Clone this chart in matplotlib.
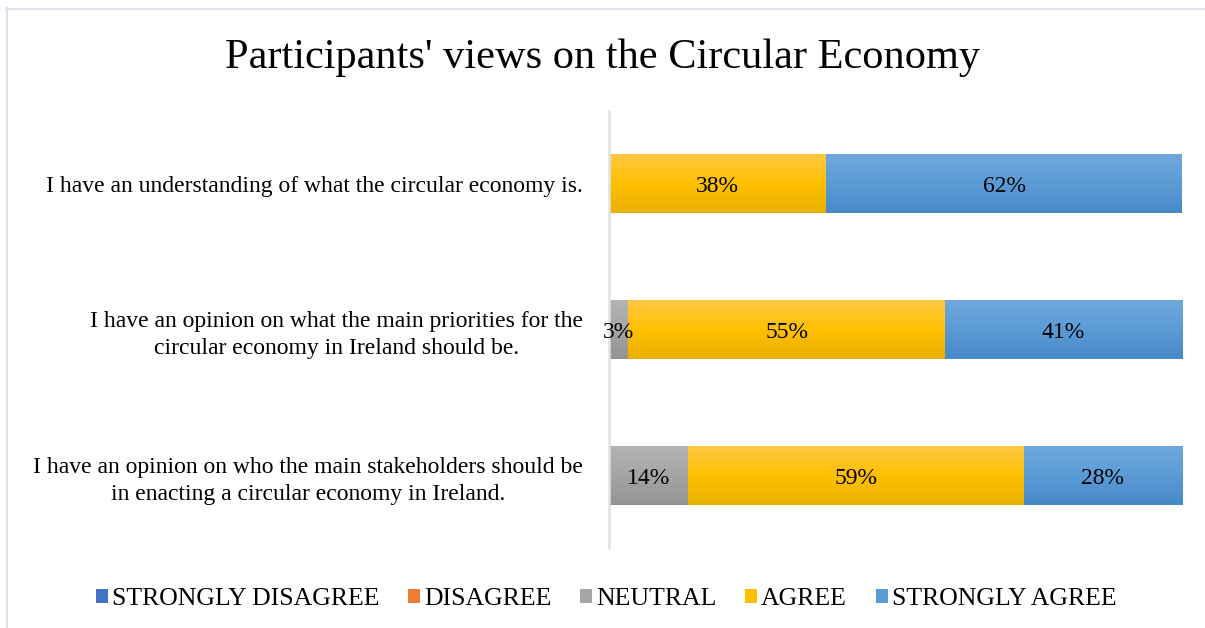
import numpy as np
import matplotlib.pyplot as plt
from matplotlib.colors import LinearSegmentedColormap
from matplotlib.patches import Patch
from matplotlib.lines import Line2D

plt.rcParams['font.family'] = ['Liberation Serif', 'DejaVu Serif']

# Survey statements and share of responses (%) per answer
statements = [
    "I have an understanding of what the circular economy is.",
    "I have an opinion on what the main priorities for the\ncircular economy in Ireland should be.",
    "I have an opinion on who the main stakeholders should be\nin enacting a circular economy in Ireland.",
]
responses = ["STRONGLY DISAGREE", "DISAGREE", "NEUTRAL", "AGREE", "STRONGLY AGREE"]
strongly_disagree = [0.0, 0.0, 0.0]
disagree = [0.0, 0.0, 0.0]
neutral = [0.0, 3.4, 13.8]
agree = [37.9, 55.2, 58.6]
strongly_agree = [62.1, 41.4, 27.6]

# base colour plus (top, bottom) shades for the vertical gradient
colors = ['#4472C4', '#ED7D31', '#A5A5A5', '#FFC000', '#5B9BD5']
shades = [('#5A86D4', '#3863B4'), ('#F4904A', '#DC6C22'), ('#B4B4B4', '#939393'),
          ('#FFC843', '#E8B000'), ('#6FA8DD', '#4789C9')]

fig = plt.figure(figsize=(12.05, 6.28), dpi=100)
ax = fig.add_axes([0.5054, 0.1274, 0.4755, 0.6958])

ypos = np.arange(len(statements))
series = [strongly_disagree, disagree, neutral, agree, strongly_agree]
left = np.zeros(len(statements))
bar_h = 0.405

for vals, col, (top, bot) in zip(series, colors, shades):
    vals = np.array(vals)
    bars = ax.barh(ypos, vals, left=left, height=bar_h, color=col, linewidth=0)
    cmap = LinearSegmentedColormap.from_list('g', [top, col, bot])
    grad = np.linspace(0, 1, 64).reshape(-1, 1)
    for b, v, l, y in zip(bars, vals, left, ypos):
        if v <= 0:
            continue
        im = ax.imshow(grad, cmap=cmap, aspect='auto', interpolation='bilinear',
                       extent=(l, l + v, y + bar_h / 2, y - bar_h / 2), zorder=2)
        im.set_clip_path(b)
        ax.text(l + v / 2, y + 0.02, '%d%%' % round(v), ha='center', va='center',
                fontsize=17, color='black', zorder=3)
    left += vals

ax.set_xlim(0, 100)
ax.set_ylim(2.5, -0.5)
ax.set_yticks(ypos)
ax.set_yticklabels(statements, fontsize=17, multialignment='center', linespacing=1.4)
ax.tick_params(axis='y', length=0, pad=19)
ax.set_xticks([])
for s in ['top', 'right', 'bottom']:
    ax.spines[s].set_visible(False)
ax.spines['left'].set_color('#dce2ea')
ax.spines['left'].set_linewidth(1.8)

fig.suptitle("Participants' views on the Circular Economy", fontsize=30.5, y=0.938)

handles = [Patch(facecolor=c, edgecolor='none') for c in colors]
fig.legend(handles, responses, loc='center', bbox_to_anchor=(0.503, 0.046), ncol=5,
           frameon=False, fontsize=18.5, handlelength=0.47, handleheight=0.47,
           handletextpad=0.15, columnspacing=1.12)

# light chart border on the top and left edges
fig.add_artist(Line2D([6 / 1205, 1.0], [1 - 8.5 / 628] * 2, color='#dde2ea', lw=1.6))
fig.add_artist(Line2D([6.5 / 1205] * 2, [0, 1 - 8 / 628], color='#dde2ea', lw=1.6))

fig.savefig('out.png', dpi=100)
